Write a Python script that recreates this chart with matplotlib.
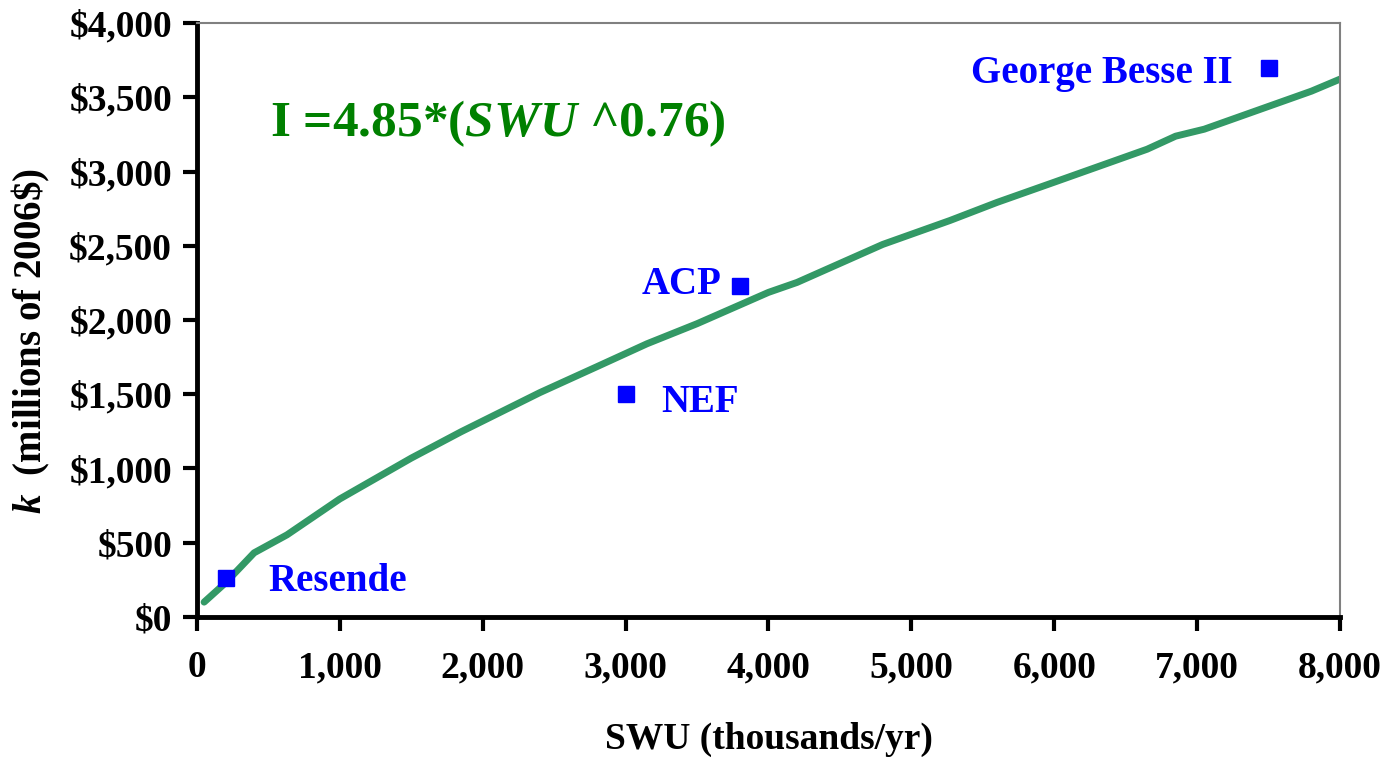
import matplotlib.pyplot as plt
from matplotlib.ticker import FuncFormatter

plt.rcParams["font.family"] = ["Liberation Serif", "DejaVu Serif"]
plt.rcParams["mathtext.fontset"] = "custom"
plt.rcParams["mathtext.rm"] = "Liberation Serif:bold"
plt.rcParams["mathtext.it"] = "Liberation Serif:bold:italic"
plt.rcParams["mathtext.bf"] = "Liberation Serif:bold"
plt.rcParams["mathtext.bfit"] = "Liberation Serif:bold:italic"

# fitted cost curve
curve_swu = [50, 200, 400, 630, 1000, 1500, 1850, 2400, 2800, 3150, 3500, 4000,
             4200, 4800, 5270, 5600, 6000, 6650, 6850, 7050, 7800, 8000]
curve_cost = [100, 230, 432, 553, 795, 1070, 1248, 1511, 1686, 1840, 1975, 2186,
              2253, 2509, 2670, 2792, 2928, 3150, 3238, 3285, 3541, 3622]

# plants
plant_names = ["Resende", "NEF", "ACP", "George Besse II"]
plant_swu = [200, 3000, 3800, 7500]
plant_cost = [260, 1500, 2230, 3700]

fig = plt.figure(figsize=(13.91, 7.65), dpi=100)
ax = fig.add_axes([0.1416, 0.1935, 0.8217, 0.7764])

ax.plot(curve_swu, curve_cost, color="#339966", lw=5, solid_capstyle="round")
ax.plot(plant_swu, plant_cost, ls="none", marker="s", ms=11.5, color="#0000ff")

label_pos = {
    "Resende": dict(xytext=(31, -2), ha="left"),
    "NEF": dict(xytext=(26, -6), ha="left"),
    "ACP": dict(xytext=(-13, 1), ha="right"),
    "George Besse II": dict(xytext=(-26, -4), ha="right"),
}
for name, x, y in zip(plant_names, plant_swu, plant_cost):
    ax.annotate(name, (x, y), textcoords="offset points", va="center",
                color="#0000ff", fontsize=28, fontweight="bold", **label_pos[name])

ax.text(0.064, 0.83, r"I =4.85*($\mathit{SWU}$ ^0.76)", transform=ax.transAxes,
        color="#008000", fontsize=37, fontweight="bold", va="center", ha="left")

ax.set_xlim(0, 8000)
ax.set_ylim(0, 4000)
ax.set_xticks(range(0, 8001, 1000))
ax.set_yticks(range(0, 4001, 500))
ax.xaxis.set_major_formatter(FuncFormatter(lambda v, p: f"{int(v):,}"))
ax.yaxis.set_major_formatter(FuncFormatter(lambda v, p: f"${int(v):,}"))
ax.tick_params(axis="both", direction="out", length=10, width=3, labelsize=27)
ax.tick_params(axis="x", pad=14)
ax.tick_params(axis="y", pad=8)
for lab in ax.get_xticklabels() + ax.get_yticklabels():
    lab.set_fontweight("bold")

for s in ["left", "bottom"]:
    ax.spines[s].set_linewidth(3.5)
    ax.spines[s].set_color("black")
for s in ["top", "right"]:
    ax.spines[s].set_linewidth(1.5)
    ax.spines[s].set_color("#808080")

ax.set_xlabel("SWU (thousands/yr)", fontsize=27, fontweight="bold", labelpad=26)
ax.set_ylabel(r"$\mathit{k}$  (millions of 2006\$)", fontsize=28, fontweight="bold")
ax.yaxis.set_label_coords(-0.127, 0.465)

fig.savefig("out.png", dpi=100)
